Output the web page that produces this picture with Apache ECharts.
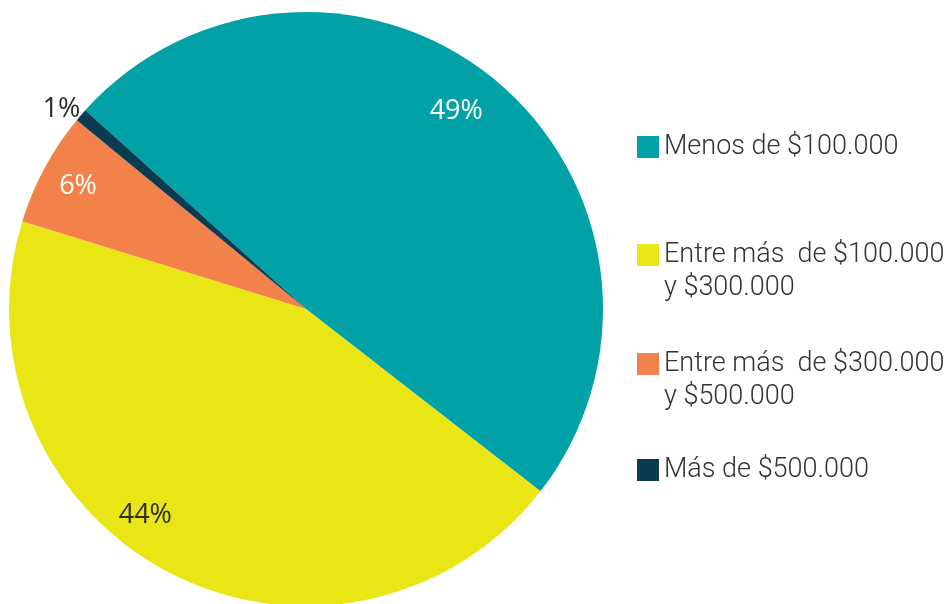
<!DOCTYPE html>
<html>
<head>
<meta charset="utf-8">
<script src="https://cdn.jsdelivr.net/npm/echarts@6/dist/echarts.min.js"></script>
<style>
html,body{margin:0;padding:0;background:#fff;}
#chart{width:944px;height:604px;}
</style>
</head>
<body>
<div id="chart"></div>
<script>
const categories = [
  'Menos de $100.000',
  'Entre más  de $100.000\ny $300.000',
  'Entre más  de $300.000\ny $500.000',
  'Más de $500.000'
];
const values = [48.9, 44.3, 6.2, 0.7];
const colors = ['#00A2A8', '#EAE615', '#F2824A', '#0B3B50'];
const labelColors = ['#ffffff', '#2b2b2b', '#ffffff', '#2b2b2b'];
const labelPositions = ['inside', 'inside', 'inside', 'outside'];

const chart = echarts.init(document.getElementById('chart'), null, {renderer: 'canvas'});

const center = [306, 309];
const R = 297;
const legendTops = [125.5, 200.5, 309.5, 448.5];
const labelOffsets = [[-16, 1], [-41, -23], [0, 0], [7, 1]];

const legends = categories.map((name, i) => ({
  data: [name],
  orient: 'vertical',
  left: 632,
  top: legendTops[i],
  icon: 'rect',
  itemWidth: 22,
  itemHeight: 22,
  selectedMode: false,
  formatter: (n) => (n.indexOf('\n') >= 0 ? ' \n' + n : n),
  textStyle: {
    fontFamily: 'Roboto',
    fontWeight: 300,
    fontSize: 27,
    color: '#333333',
    lineHeight: 33
  }
}));

chart.setOption({
  animation: false,
  legend: legends,
  series: [
    {
      type: 'pie',
      center: center,
      radius: [0, R],
      startAngle: 138,
      clockwise: true,
      silent: true,
      avoidLabelOverlap: false,
      label: {show: false},
      labelLine: {show: false},
      data: categories.map((name, i) => ({
        name: name,
        value: values[i],
        itemStyle: {color: colors[i]}
      }))
    },
    {
      type: 'pie',
      center: center,
      radius: [215, R],
      startAngle: 138,
      clockwise: true,
      silent: true,
      avoidLabelOverlap: false,
      itemStyle: {color: 'rgba(0,0,0,0)'},
      labelLine: {show: false, length: 10, length2: 0},
      data: categories.map((name, i) => ({
        name: name,
        value: values[i],
        itemStyle: {color: 'rgba(0,0,0,0)'},
        label: {
          show: true,
          position: labelPositions[i],
          offset: labelOffsets[i],
          formatter: (p) => Math.round(p.value) + '%',
          fontFamily: 'Open Sans',
          fontSize: 27,
          color: labelColors[i],
          distanceToLabelLine: 0
        }
      }))
    }
  ]
});
</script>
</body>
</html>
